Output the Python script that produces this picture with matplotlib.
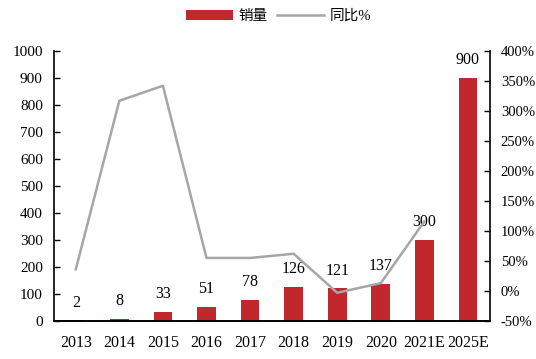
import matplotlib
matplotlib.use('Agg')
import matplotlib.pyplot as plt
from matplotlib.ticker import FuncFormatter

years = ["2013", "2014", "2015", "2016", "2017", "2018", "2019", "2020", "2021E", "2025E"]
sales = [2, 8, 33, 51, 78, 126, 121, 137, 300, 900]
yoy_years = ["2013", "2014", "2015", "2016", "2017", "2018", "2019", "2020", "2021E"]
yoy = [36, 317, 342, 55, 55, 62, -3, 13, 116]

plt.rcParams['font.family'] = ['Liberation Serif', 'Noto Sans CJK SC']

fig = plt.figure(figsize=(5.36, 3.59), dpi=100)
ax = fig.add_axes([0.1007, 0.106, 0.813, 0.752])
ax2 = ax.twinx()

x = list(range(len(years)))
bars = ax.bar(x, sales, width=0.43, color='#C1272D', label='销量', zorder=2)
for xi, v in zip(x, sales):
    ax.annotate(str(v), (xi, v), xytext=(0, 7), textcoords='offset points',
                ha='center', va='bottom', fontsize=11.5)

line, = ax2.plot(x[:len(yoy)], yoy, color='#A6A6A6', lw=1.8, label='同比%')

ax.set_xlim(-0.5, 9.5)
ax.set_ylim(0, 1000)
ax.set_yticks(range(0, 1001, 100))
ax2.set_ylim(-50, 400)
ax2.set_yticks(range(-50, 401, 50))
ax2.yaxis.set_major_formatter(FuncFormatter(lambda v, p: f"{int(v)}%"))
ax.set_xticks(x)
ax.set_xticklabels(years)

for a in (ax, ax2):
    a.spines['top'].set_visible(False)
    a.tick_params(direction='in', length=4, width=1)
    for s in a.spines.values():
        s.set_linewidth(1.2)
ax.tick_params(axis='y', labelsize=11, pad=8)
ax2.tick_params(axis='y', labelsize=10.5, pad=8)
ax.tick_params(axis='x', labelsize=11.5, length=0, pad=10)
ax2.spines['left'].set_visible(False)
ax.spines['right'].set_visible(False)

ax.set_zorder(ax2.get_zorder() - 1)
ax.patch.set_visible(False)
ax2.patch.set_visible(False)

fig.legend([bars, line], ['销量', '同比%'], loc='center', bbox_to_anchor=(0.52, 0.955),
           ncol=2, frameon=False, fontsize=10.5, handlelength=3.2, handleheight=0.7,
           columnspacing=0.6, handletextpad=0.4)

fig.savefig('out.png', dpi=100)
